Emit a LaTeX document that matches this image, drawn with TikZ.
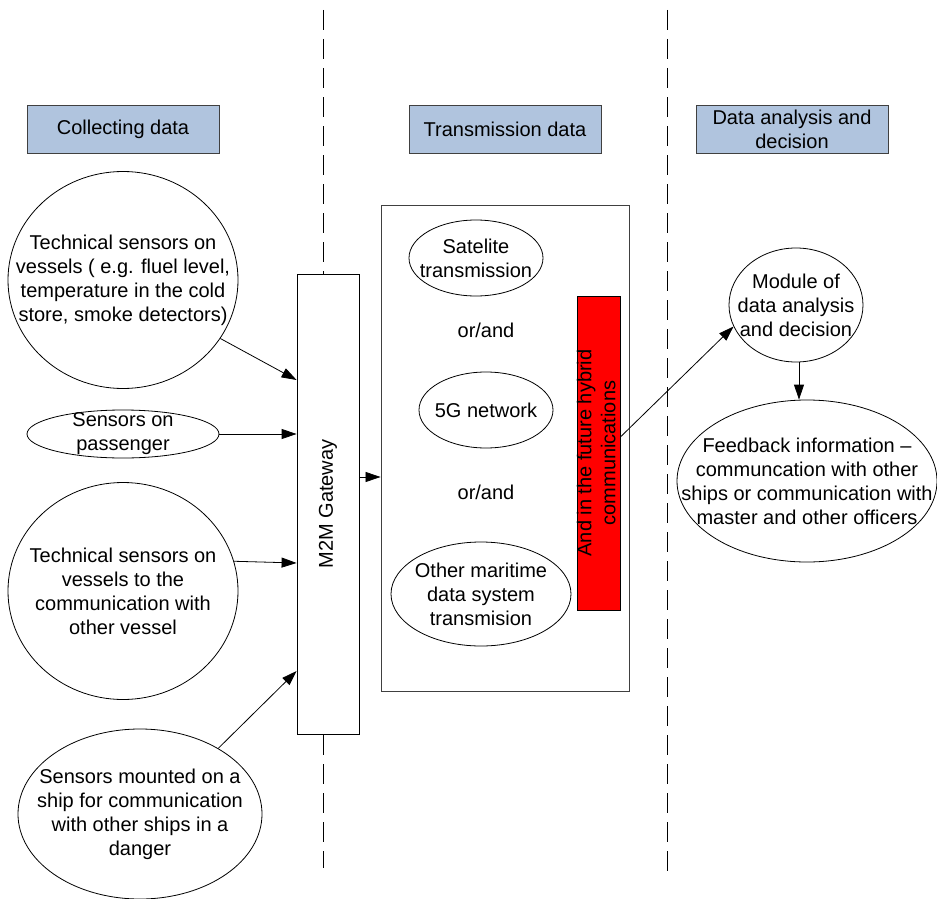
\documentclass[tikz,border=0pt]{standalone}
\usepackage{fontspec}
\setmainfont{Liberation Sans}
\usetikzlibrary{shapes.geometric,arrows.meta}
\definecolor{hdrfill}{HTML}{B0C4DE}
\definecolor{hdrborder}{HTML}{404040}
\definecolor{boxgray}{HTML}{404040}
\begin{document}
\begin{tikzpicture}[x=1pt,y=-1pt,
  every node/.style={font=\fontsize{20}{24}\selectfont},
  ell/.style={ellipse,draw=black,line width=0.8pt,inner sep=0pt,fill=white},
  head/.style={rectangle,draw=hdrborder,fill=hdrfill,line width=0.9pt,minimum width=192pt,minimum height=48pt,inner sep=0pt,align=center},
  conn/.style={line width=0.8pt,-{Triangle[length=15pt,width=10pt]}},
  sepline/.style={line width=0.8pt,dash pattern=on 20pt off 9pt}]
\useasboundingbox (0,0) rectangle (937,899);
\fill[white] (0,0) rectangle (937,899);
% separators
\draw[sepline] (323,10) -- (323,868);
\draw[sepline] (667,10) -- (667,871);
% headers
\node[head] (h1) at (123,129) {Collecting data};
\node[head] (h2) at (505,129) {Transmission data};
\node[head] (h3) at (792,129) {Data analysis and\\decision};
% left ellipses
\node[ell,minimum width=230pt,minimum height=217pt,label={[align=center]center:Technical sensors on\\vessels ( e.g. fluel level,\\temperature in the cold\\store, smoke detectors)}] (e1) at (123,280) {};
\node[ell,minimum width=192pt,minimum height=48pt,label={[align=center]center:Sensors on\\passenger}] (e2) at (123,434) {};
\node[ell,minimum width=230pt,minimum height=217pt,label={[align=center]center:Technical sensors on\\vessels to the\\communication with\\other vessel}] (e3) at (123,591) {};
\node[ell,minimum width=244pt,minimum height=170pt,label={[align=center]center:Sensors mounted on a\\ship for communication\\with other ships in a\\danger}] (e4) at (140,814) {};
% gateway
\node[rectangle,draw=black,fill=white,line width=0.8pt,minimum width=62pt,minimum height=460pt,inner sep=0pt] (gw) at (328,504) {\rotatebox{90}{M2M Gateway}};
% transmission box
\node[rectangle,draw=boxgray,line width=0.9pt,minimum width=248pt,minimum height=486pt,inner sep=0pt] (tb) at (505,448) {};
\node[ell,minimum width=134pt,minimum height=76pt,label={[align=center]center:Satelite\\transmission}] (sat) at (476,258) {};
\node (o1) at (486,330) {or/and};
\node[ell,minimum width=134pt,minimum height=76pt,label={[align=center]center:5G network}] (g5) at (486,410) {};
\node (o2) at (486,492) {or/and};
\node[ell,minimum width=180pt,minimum height=104pt,label={[align=center]center:Other maritime\\data system\\transmision}] (oth) at (481,594) {};
\node[rectangle,draw=black,fill=red,line width=0.8pt,minimum width=43pt,minimum height=314pt,inner sep=0pt] (red) at (598.5,453) {\makebox[0pt]{\rotatebox{90}{\begin{tabular}{@{}c@{}}And in the future hybrid\\communications\end{tabular}}}};
% right side
\node[ell,minimum width=134pt,minimum height=114pt,label={[align=center]center:Module of\\data analysis\\and decision}] (mod) at (796,305) {};
\node[ell,minimum width=260pt,minimum height=162pt,label={[align=center]center:Feedback information –\\communcation with other\\ships or communication with\\master and other officers}] (fb) at (807,481) {};
% connectors
\draw[conn] (e1.-31) -- ([yshift=124pt]gw.west);
\draw[conn] (e2.east) -- (e2.east -| gw.west);
\draw[conn] (e3.15) -- ([yshift=-59pt]gw.west);
\draw[conn] (e4.40) -- ([yshift=-167pt]gw.west);
\coordinate (gwo) at ([yshift=27pt]gw.east);
\draw[conn] (gwo) -- (gwo -| tb.west);
\draw[conn] ([yshift=16pt]red.east) -- (mod.199);
\coordinate (mb) at ([xshift=3pt]mod.south);
\draw[conn] (mb) -- (mb |- fb.north);
\end{tikzpicture}
\end{document}
